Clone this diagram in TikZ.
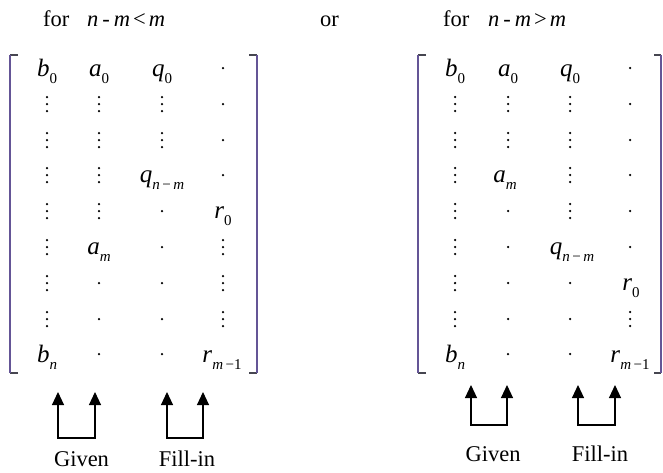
\documentclass[tikz,border=0pt]{standalone}
\usepackage{fontspec}
\setmainfont{Liberation Serif}
\usetikzlibrary{arrows.meta}
\definecolor{brk}{RGB}{100,85,150}
\definecolor{brkend}{RGB}{70,70,80}
\newcommand{\sbs}[1]{\raisebox{-0.3em}{\fontsize{15}{15}\selectfont #1}}
\newcommand{\ent}[2]{\textit{#1}\sbs{#2}}
\newcommand{\vd}[2]{\fill (#1,#2-7) circle[radius=1.25pt] (#1,#2) circle[radius=1.25pt] (#1,#2+7) circle[radius=1.25pt];}
\newcommand{\sd}[2]{\fill (#1,#2) circle[radius=1.25pt];}
\begin{document}
\begin{tikzpicture}[x=1pt,y=-1pt,
  lab/.style={inner sep=0pt,anchor=base,font=\fontsize{22.5}{26}\selectfont},
  ent/.style={inner sep=0pt,anchor=base,font=\fontsize{25}{28}\selectfont},
  ttl/.style={inner sep=0pt,anchor=base west,font=\fontsize{22.5}{26}\selectfont},
  bracket/.style={line width=1.1pt},
  uarrow/.style={line width=1.1pt,{Triangle[width=12pt,length=13pt]}-{Triangle[width=12pt,length=13pt]}}]
\useasboundingbox (0,0) rectangle (663,472);
% titles
\node[ttl] (f1) at (43,26) {for};
\node[ttl] (c1) at (87,26) {\textit{n}\hspace{4pt}-\hspace{4pt}\textit{m}\hspace{3pt}<\hspace{3pt}\textit{m}};
\node[ttl] (or) at (320,26) {or};
\node[ttl] (f2) at (443,26) {for};
\node[ttl] (c2) at (488,26) {\textit{n}\hspace{4pt}-\hspace{4pt}\textit{m}\hspace{3pt}>\hspace{3pt}\textit{m}};
% brackets
\draw[brkend,bracket] (18,55) -- (10,55);
\draw[brkend,bracket] (18,373) -- (10,373);
\draw[brk,bracket] (10,55) -- (10,373);
\draw[brkend,bracket] (249,55) -- (257,55);
\draw[brkend,bracket] (249,373) -- (257,373);
\draw[brk,bracket] (257,55) -- (257,373);
\draw[brkend,bracket] (426,55) -- (418,55);
\draw[brkend,bracket] (426,373) -- (418,373);
\draw[brk,bracket] (418,55) -- (418,373);
\draw[brkend,bracket] (654,55) -- (661,55);
\draw[brkend,bracket] (654,373) -- (661,373);
\draw[brk,bracket] (661,55) -- (661,373);
% ---------- left matrix: cols 47, 99, 162, 223 ; rows 68+35.8 i
\node[ent] (Lb0) at (47,76) {\ent{b}{0}};
\node[ent] (La0) at (99,76) {\ent{a}{0}};
\node[ent] (Lq0) at (162,76) {\ent{q}{0}};
\sd{223}{68}
\vd{47}{104}\vd{99}{104}\vd{162}{104}\sd{223}{104}
\vd{47}{140}\vd{99}{140}\vd{162}{140}\sd{223}{140}
\vd{47}{175}\vd{99}{175}
\node[ent] (Lq) at (162,182) {\ent{q}{\textit{n}\,−\,\textit{m}}};
\sd{223}{175}
\vd{47}{211}\vd{99}{211}\sd{162}{211}
\node[ent] (Lr0) at (223,218) {\ent{r}{0}};
\vd{47}{247}
\node[ent] (Lam) at (99,254) {\ent{a}{\textit{m}}};
\sd{162}{247}\vd{223}{247}
\vd{47}{283}\sd{99}{283}\sd{162}{283}\vd{223}{283}
\vd{47}{319}\sd{99}{319}\sd{162}{319}\vd{223}{319}
\node[ent] (Lbn) at (47,362) {\ent{b}{\textit{n}}};
\sd{99}{354}\sd{162}{354}
\node[ent] (Lrm) at (222,362) {\ent{r}{\textit{m}\,−1}};
% ---------- right matrix: cols 455, 508, 570, 630
\node[ent] (Rb0) at (455,76) {\ent{b}{0}};
\node[ent] (Ra0) at (508,76) {\ent{a}{0}};
\node[ent] (Rq0) at (570,76) {\ent{q}{0}};
\sd{630}{68}
\vd{455}{104}\vd{508}{104}\vd{570}{104}\sd{630}{104}
\vd{455}{140}\vd{508}{140}\vd{570}{140}\sd{630}{140}
\vd{455}{175}
\node[ent] (Ram) at (505,182) {\ent{a}{\textit{m}}};
\vd{570}{175}\sd{630}{175}
\vd{455}{211}\sd{508}{211}\vd{570}{211}\sd{630}{211}
\vd{455}{247}\sd{508}{247}
\node[ent] (Rq) at (572,254) {\ent{q}{\textit{n}\,−\,\textit{m}}};
\sd{630}{247}
\vd{455}{283}\sd{508}{283}\sd{570}{283}
\node[ent] (Rr0) at (631,290) {\ent{r}{0}};
\vd{455}{319}\sd{508}{319}\sd{570}{319}\vd{630}{319}
\node[ent] (Rbn) at (455,362) {\ent{b}{\textit{n}}};
\sd{508}{354}\sd{570}{354}
\node[ent] (Rrm) at (630,362) {\ent{r}{\textit{m}\,−1}};
% ---------- arrows left
\coordinate (g1t) at (58,392); \coordinate (g1b) at (58,438);
\coordinate (g2t) at (95,392); \coordinate (g2b) at (95,438);
\coordinate (f1t) at (167,392); \coordinate (f1b) at (167,438);
\coordinate (f2t) at (203,392); \coordinate (f2b) at (203,438);
\draw[uarrow] (g1t) -- (g1b) -- (g2b) -- (g2t);
\draw[uarrow] (f1t) -- (f1b) -- (f2b) -- (f2t);
\node[lab] (giv1) at (81.5,466) {Given};
\node[lab] (fil1) at (187,466) {Fill-in};
% ---------- arrows right
\coordinate (h1t) at (471,385); \coordinate (h1b) at (471,425);
\coordinate (h2t) at (507,385); \coordinate (h2b) at (507,425);
\coordinate (k1t) at (578,385); \coordinate (k1b) at (578,425);
\coordinate (k2t) at (615,385); \coordinate (k2b) at (615,425);
\draw[uarrow] (h1t) -- (h1b) -- (h2b) -- (h2t);
\draw[uarrow] (k1t) -- (k1b) -- (k2b) -- (k2t);
\node[lab] (giv2) at (493,461) {Given};
\node[lab] (fil2) at (600,461) {Fill-in};
\end{tikzpicture}
\end{document}
